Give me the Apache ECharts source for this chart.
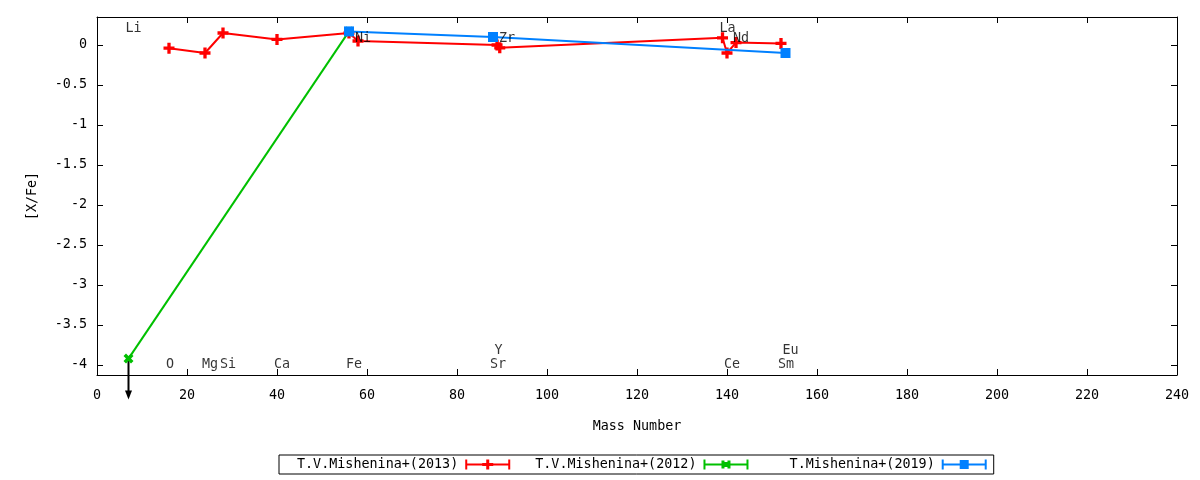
<!DOCTYPE html>
<html>
<head>
<meta charset="utf-8">
<script src="https://cdn.jsdelivr.net/npm/echarts@6/dist/echarts.min.js"></script>
<style>
html,body{margin:0;padding:0;background:#fff;}
#c{width:1200px;height:480px;}
</style>
</head>
<body>
<div id="c"></div>
<script>
// ---- data ----
var seriesNames = ['T.V.Mishenina+(2013)', 'T.V.Mishenina+(2012)', 'T.Mishenina+(2019)'];
var massRed  = [16, 24, 28, 40, 56, 58, 88.9, 89.5, 139, 140, 142, 152];
var xfeRed   = [-0.04, -0.1, 0.15, 0.07, 0.15, 0.05, 0.0, -0.035, 0.09, -0.1, 0.03, 0.02];
var massGreen = [7, 56];
var xfeGreen  = [-3.92, 0.17];
var massBlue = [56, 88, 153];
var xfeBlue  = [0.17, 0.1, -0.1];
// upper limit arrow (Li)
var arrowFrom = [7, -3.92];
var arrowTo   = [7, -4.43];
// element labels
var labelNames = ['Li', 'Ni', 'Zr', 'La', 'Nd', 'O', 'Mg', 'Si', 'Ca', 'Fe', 'Sr', 'Y', 'Ce', 'Sm', 'Eu'];
var labelMass  = [7, 58, 90, 139, 142, 16, 24, 28, 40, 56, 88, 89, 140, 152, 153];
var labelY     = [0.23, 0.11, 0.11, 0.23, 0.11, -3.97, -3.97, -3.97, -3.97, -3.97, -3.97, -3.79, -3.97, -3.97, -3.79];
var xTicks = [0, 20, 40, 60, 80, 100, 120, 140, 160, 180, 200, 220, 240];
var yTicks = [0, -0.5, -1, -1.5, -2, -2.5, -3, -3.5, -4];

function pairs(xs, ys) { return xs.map(function (x, i) { return [x, ys[i]]; }); }

var FONT = 'DejaVu Sans Mono';
var FS = 13.4;
var plusPath = 'path://M3.5,0H6.5V3.5H10V6.5H6.5V10H3.5V6.5H0V3.5H3.5Z';
var xPath = 'path://M0,2.5L2.5,0L5,2.5L7.5,0L10,2.5L7.5,5L10,7.5L7.5,10L5,7.5L2.5,10L0,7.5L2.5,5Z';
var iconRed = 'path://M0,0H2V10H0Z M43,0H45V10H43Z M2,4H43V6H2Z M21,0H24V10H21Z M17,3.5H28V6.5H17Z';
var iconGreen = 'path://M0,0H2V10H0Z M43,0H45V10H43Z M2,4H43V6H2Z M18,1H21V9H18Z M24,1H27V9H24Z M20,2.5H25V7.5H20Z';
var iconBlue = 'path://M0,0H2V10H0Z M43,0H45V10H43Z M2,4H43V6H2Z M18,0.5H27V9.5H18Z';

var colors = ['#ff0000', '#00c000', '#0080ff'];

function axisLine() { return { show: true, onZero: false, lineStyle: { color: '#000', width: 1 } }; }
function ticks(extra) { return Object.assign({ show: true, inside: true, length: 6, lineStyle: { color: '#000', width: 1 } }, extra || {}); }

var chart = echarts.init(document.getElementById('c'), null, { renderer: 'canvas' });
chart.setOption({
  animation: false,
  backgroundColor: '#fff',
  textStyle: { fontFamily: FONT },
  grid: { left: 97, right: 23, top: 17, bottom: 105, containLabel: false },
  xAxis: [
    {
      type: 'value', position: 'bottom', min: 0, max: 240, interval: 20,
      name: 'Mass Number', nameLocation: 'middle', nameGap: 45,
      nameTextStyle: { fontFamily: FONT, fontSize: FS, color: '#000' },
      axisLine: axisLine(), splitLine: { show: false },
      axisTick: ticks(),
      axisLabel: { show: true, margin: 14, fontFamily: FONT, fontSize: FS, color: '#000', customValues: xTicks }
    },
    {
      type: 'value', position: 'top', min: 0, max: 240, interval: 20,
      axisLine: axisLine(), splitLine: { show: false },
      axisTick: ticks(),
      axisLabel: { show: false }
    }
  ],
  yAxis: [
    {
      type: 'value', position: 'left', min: -4.125, max: 0.35,
      name: '[X/Fe]', nameLocation: 'middle', nameGap: 58, nameRotate: 90,
      nameTextStyle: { fontFamily: FONT, fontSize: FS, color: '#000' },
      axisLine: axisLine(), splitLine: { show: false },
      axisTick: ticks({ customValues: yTicks }),
      axisLabel: { show: true, margin: 10, fontFamily: FONT, fontSize: FS, color: '#000',
        padding: [4, 0, 0, 0],
        customValues: yTicks, formatter: function (v) { return String(v); } }
    },
    {
      type: 'value', position: 'right', min: -4.125, max: 0.35,
      axisLine: axisLine(), splitLine: { show: false },
      axisTick: ticks({ customValues: yTicks }),
      axisLabel: { show: false, customValues: yTicks }
    }
  ],
  legend: {
    left: 279, top: 455,
    orient: 'horizontal',
    align: 'right',
    selectedMode: false,
    borderColor: '#000', borderWidth: 1, borderRadius: 0,
    padding: [3, 7, 3, 18],
    itemGap: 25,
    itemWidth: 45, itemHeight: 10,
    textStyle: { fontFamily: FONT, fontSize: FS, color: '#000', padding: [2, 2, 0, 0] },
    formatter: function (name) { return name.length < 20 ? '  ' + name : name; },
    data: [
      { name: seriesNames[0], icon: iconRed },
      { name: seriesNames[1], icon: iconGreen },
      { name: seriesNames[2], icon: iconBlue }
    ]
  },
  series: [
    {
      name: seriesNames[0], type: 'line', xAxisIndex: 0, yAxisIndex: 0,
      data: pairs(massRed, xfeRed),
      symbol: plusPath, symbolSize: 11,
      itemStyle: { color: colors[0] },
      lineStyle: { color: colors[0], width: 2 },
      z: 3
    },
    {
      name: seriesNames[1], type: 'line', xAxisIndex: 0, yAxisIndex: 0,
      data: pairs(massGreen, xfeGreen),
      symbol: xPath, symbolSize: 10,
      itemStyle: { color: colors[1] },
      lineStyle: { color: colors[1], width: 2 },
      z: 3
    },
    {
      name: seriesNames[2], type: 'line', xAxisIndex: 0, yAxisIndex: 0,
      data: pairs(massBlue, xfeBlue),
      symbol: 'rect', symbolSize: 10,
      itemStyle: { color: colors[2] },
      lineStyle: { color: colors[2], width: 2 },
      z: 4
    },
    {
      name: 'limit', type: 'custom', xAxisIndex: 0, yAxisIndex: 0,
      clip: false, silent: true, z: 2,
      data: [[arrowFrom[0], arrowFrom[1], arrowTo[0], arrowTo[1]]],
      renderItem: function (params, api) {
        var p0 = api.coord([api.value(0), api.value(1)]);
        var p1 = api.coord([api.value(2), api.value(3)]);
        var head = 9;
        return {
          type: 'group',
          children: [
            { type: 'line', shape: { x1: p0[0], y1: p0[1], x2: p1[0], y2: p1[1] - head + 1 },
              style: { stroke: '#000', lineWidth: 2 } },
            { type: 'polygon', shape: { points: [[p1[0] - 3.5, p1[1] - head], [p1[0] + 3.5, p1[1] - head], [p1[0], p1[1]]] },
              style: { fill: '#000' } }
          ]
        };
      }
    },
    {
      name: 'labels', type: 'scatter', xAxisIndex: 0, yAxisIndex: 0,
      silent: true, symbolSize: 0, z: 5,
      data: labelNames.map(function (n, i) { return { name: n, value: [labelMass[i], labelY[i]] }; }),
      label: {
        show: true, position: 'right', distance: 0, offset: [-3, 2],
        formatter: function (p) { return p.name; },
        fontFamily: FONT, fontSize: FS, color: '#000'
      }
    }
  ]
});
</script>
</body>
</html>
